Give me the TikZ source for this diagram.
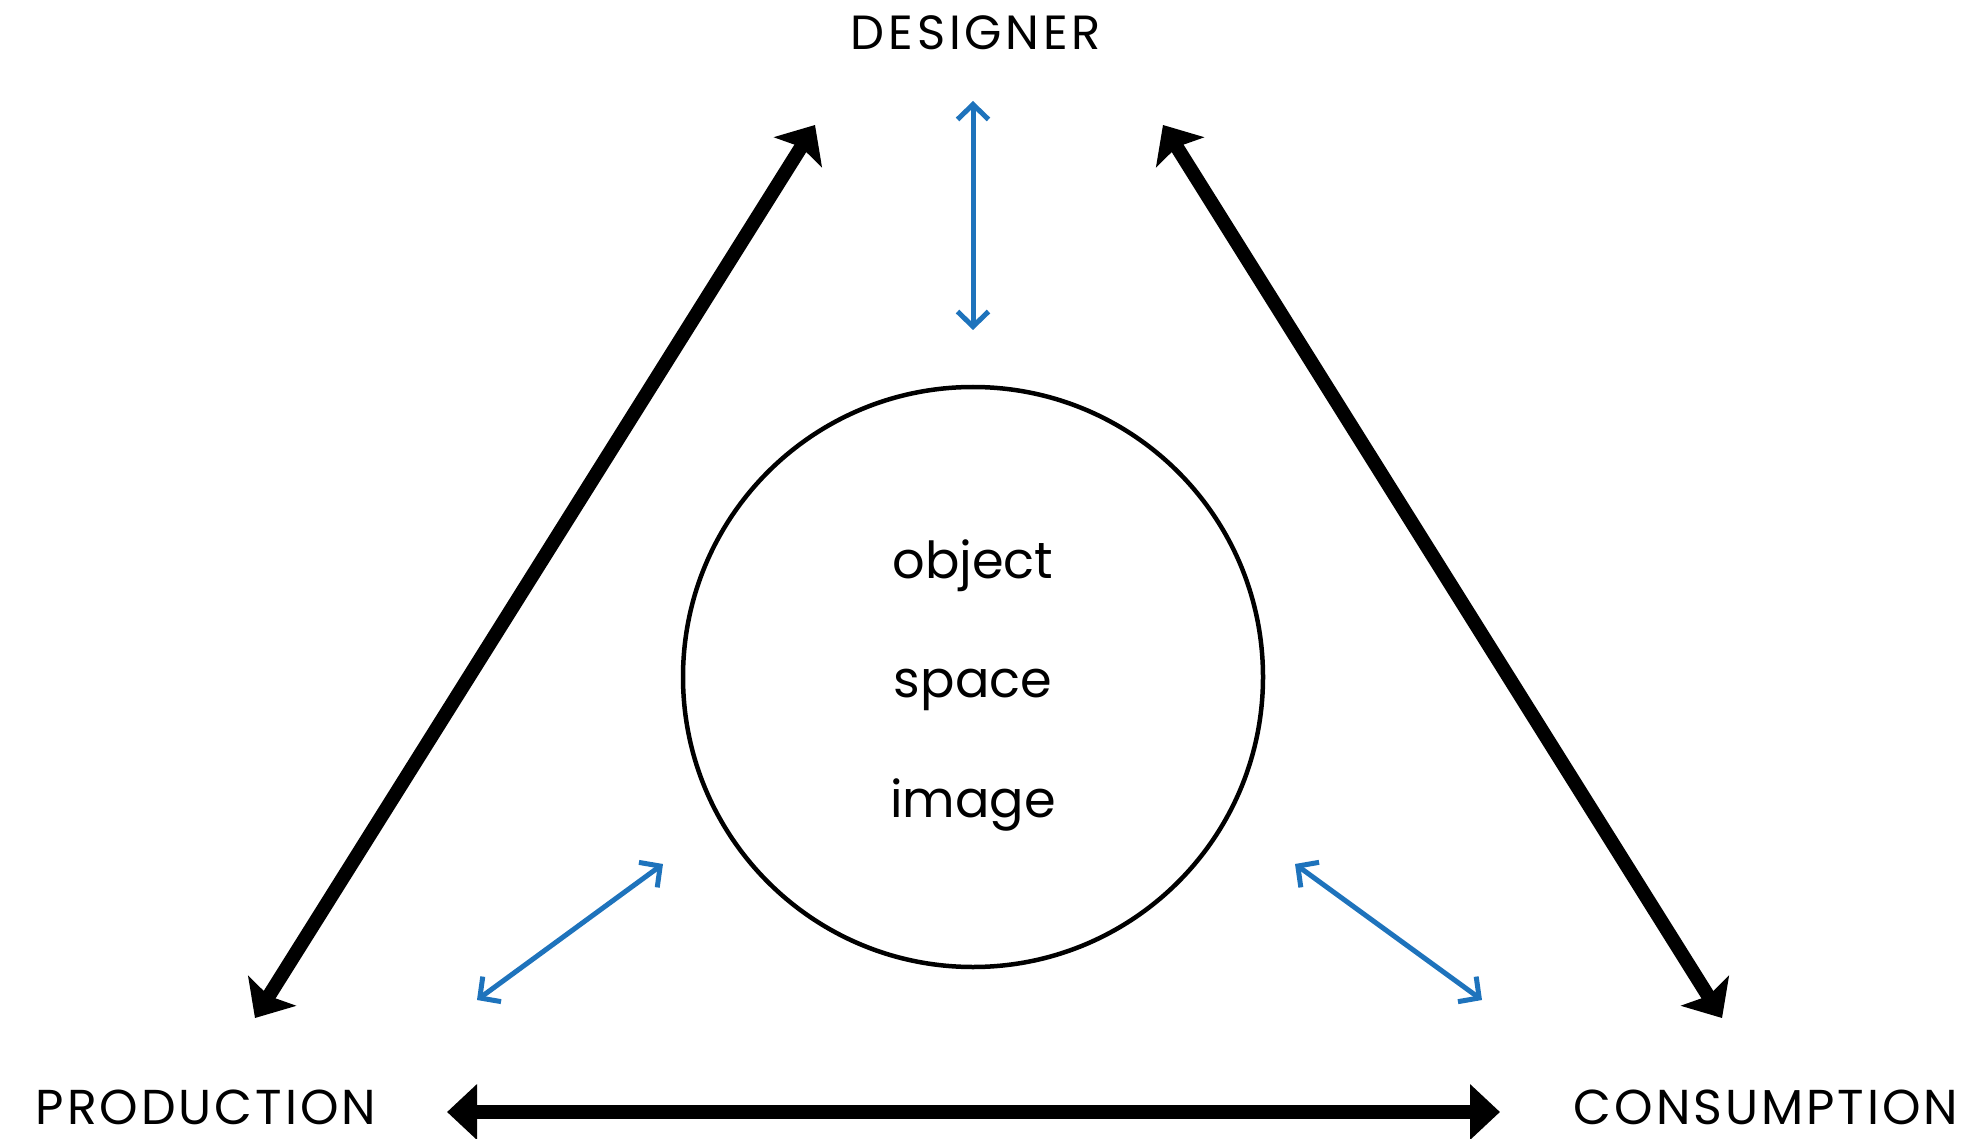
\documentclass[tikz,border=0pt]{standalone}
\usepackage{fontspec}
\setmainfont{Poppins}
\newfontfamily\capsfont[LetterSpace=6]{Poppins}
\newfontfamily\titlefont[LetterSpace=8]{Poppins}
\usetikzlibrary{arrows.meta}
\definecolor{linkblue}{RGB}{30,115,188}
\begin{document}
\begin{tikzpicture}[x=1pt,y=-1pt,
  capslabel/.style={anchor=base, inner sep=0pt, font=\capsfont\fontsize{49}{52}\selectfont},
  titlelabel/.style={anchor=base, inner sep=0pt, font=\titlefont\fontsize{48}{52}\selectfont},
  wordlabel/.style={anchor=base, inner sep=0pt, font=\fontsize{51}{55}\selectfont},
  bigarrow/.style={line width=14pt, {Stealth[length=32pt,width=56pt,inset=6pt]}-{Stealth[length=32pt,width=56pt,inset=6pt]}},
  flatarrow/.style={line width=14pt, {Triangle[length=30pt,width=54pt]}-{Triangle[length=30pt,width=54pt]}},
  bluearrow/.style={linkblue, line width=5pt, {Straight Barb[length=15pt,width=31pt]}-{Straight Barb[length=15pt,width=31pt]}},
  ring/.style={circle, draw, line width=4.5pt, minimum size=580pt, inner sep=0pt}]
\useasboundingbox (0,0) rectangle (1973,1139);

% labels
\node[titlelabel] (designer) at (976,50) {DESIGNER};
\node[capslabel] (production) at (206,1124) {PRODUCTION};
\node[capslabel] (consumption) at (1766,1124) {CONSUMPTION};

% central circle
\node[ring] (circ) at (973,677) {};
\node[wordlabel] (object) at (973,578) {object};
\node[wordlabel] (space) at (973,697) {space};
\node[wordlabel] (image) at (973,817) {image};

% black arrow end points
\coordinate (lt) at (815,125);
\coordinate (lb) at (255,1018);
\coordinate (rt) at (1163,125);
\coordinate (rb) at (1722,1018);
\coordinate (hl) at (447,1112);
\coordinate (hr) at (1500,1112);

\draw[bigarrow] (lb) -- (lt);
\draw[bigarrow] (rt) -- (rb);
\draw[flatarrow] (hl) -- (hr);

% blue arrows
\coordinate (vt) at (973,101);
\coordinate (vb) at (973,330);
\coordinate (blt) at (663,864);
\coordinate (blb) at (477,1000);
\coordinate (brt) at (1295,864);
\coordinate (brb) at (1482,1000);

\draw[bluearrow] (vt) -- (vb);
\draw[bluearrow] (blb) -- (blt);
\draw[bluearrow] (brt) -- (brb);
\end{tikzpicture}
\end{document}
